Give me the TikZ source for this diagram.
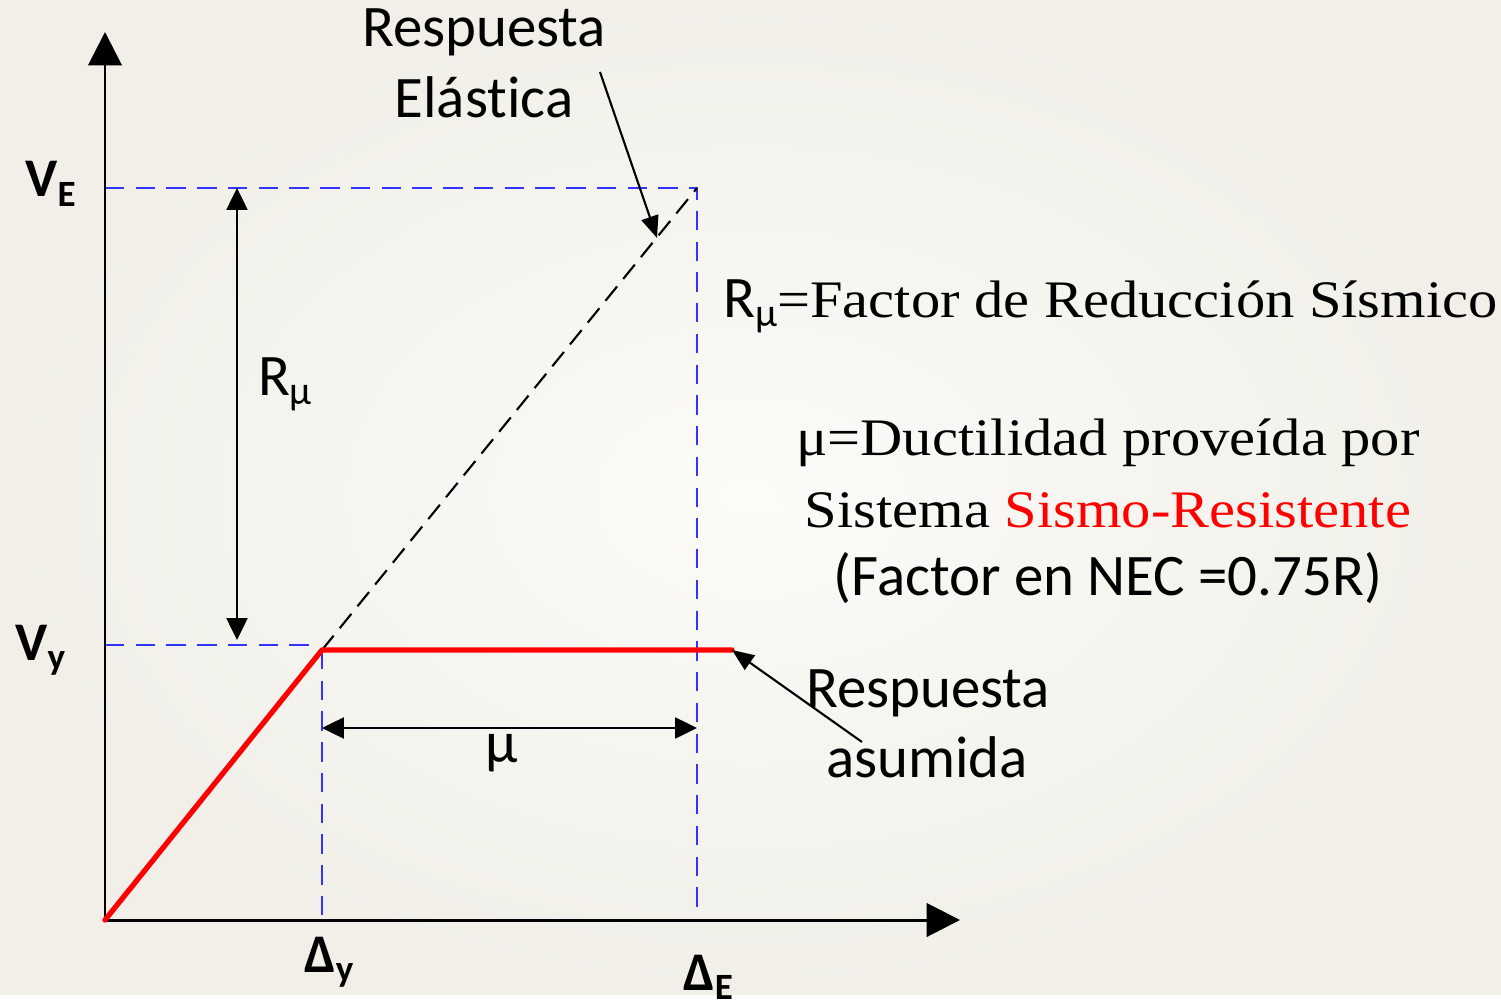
\documentclass[tikz,border=0pt]{standalone}
\usepackage{fontspec}
\setmainfont{Liberation Serif}
\newfontfamily\calibri[Ligatures=NoCommon]{Carlito}
\usetikzlibrary{arrows.meta}
\definecolor{dashblue}{RGB}{51,51,255}
\definecolor{curvered}{RGB}{255,0,0}
\definecolor{paperin}{RGB}{251,251,248}
\definecolor{paperout}{RGB}{241,239,232}
\newcommand\lowsub[1]{\raisebox{-0.35ex}{\scalebox{0.68}{#1}}}
\newcommand\widen[1]{\scalebox{1.11}[1]{#1}}
\tikzset{
  axis/.style={line width=1.7pt, -{Triangle[length=19pt,width=19pt]}},
  dimline/.style={line width=1.2pt, {Triangle[length=12.5pt,width=12pt]}-{Triangle[length=12.5pt,width=12pt]}},
  callout/.style={line width=1.2pt, -{Triangle[length=12.5pt,width=10pt]}},
  guide/.style={dashblue, line width=1.1pt, dash pattern=on 11pt off 6.5pt},
  elastic/.style={line width=1.2pt, dash pattern=on 10.5pt off 5.5pt},
  assumed/.style={curvered, line width=3pt, line cap=round, line join=round},
  lbl/.style={font=\calibri\fontsize{33.5}{40}\selectfont, inner sep=0pt, anchor=base},
  axlbl/.style={font=\calibri\bfseries\fontsize{31}{36}\selectfont, inner sep=0pt, anchor=base west},
  note/.style={font=\fontsize{30}{36}\selectfont, inner sep=0pt, anchor=base}
}
\begin{document}
\begin{tikzpicture}[x=0.02cm, y=-0.02cm]
  % fondo
  \shade[inner color=paperin, outer color=paperout] (0,0) rectangle (1501,994);
  % puntos de la curva
  \coordinate (O) at (105,920);
  \coordinate (Ytop) at (105,32);
  \coordinate (Xend) at (960,920);
  \coordinate (Yld) at (322,650);
  \coordinate (Elas) at (697,188);
  \coordinate (Pend) at (732,650);
  % lineas guia
  \draw[guide] (105,188) -- (Elas) -- (697,910);
  \draw[guide] (105,645) -- (318,645);
  \draw[guide] (Yld) -- (322,920);
  % ejes
  \draw[axis] (O) -- (Ytop);
  \draw[axis] (O) -- (Xend);
  % respuestas
  \draw[elastic] (Yld) -- (Elas);
  \draw[assumed] (O) -- (Yld) -- (Pend);
  % cotas
  \coordinate (Rtop) at (237,188);
  \coordinate (Rbot) at (237,640);
  \coordinate (Mleft) at (322,728);
  \coordinate (Mright) at (697,728);
  \draw[dimline] (Rtop) -- (Rbot);
  \draw[dimline] (Mleft) -- (Mright);
  \node[lbl] (rmu) at (285,395) {R\lowsub{μ}};
  \node[lbl] (mu) at (502,762) {μ};
  % etiquetas de ejes
  \node[axlbl] (ve) at (25,197) {V\lowsub{E}};
  \node[axlbl] (vy) at (15,660) {V\lowsub{y}};
  \node[axlbl] (dy) at (304,972) {Δ\lowsub{y}};
  \node[axlbl] (de) at (683,990) {Δ\lowsub{E}};
  % llamadas
  \node[lbl] (elas1) at (484,47) {Respuesta};
  \node[lbl] (elas2) at (484,118) {Elástica};
  \node[lbl] (asum1) at (928,707) {Respuesta};
  \node[lbl] (asum2) at (927,777) {asumida};
  \coordinate (c1) at (600,72);
  \coordinate (c2) at (862,742);
  \draw[callout] (c1) -- (657,238);
  \draw[callout] (c2) -- (Pend);
  % definiciones
  \node[note, anchor=base west] (def1) at (723,317) {{\calibri\fontsize{33.5}{40}\selectfont R\lowsub{μ}}\widen{=Factor de Reducción Sísmico}};
  \node[note] (def2) at (1108,455) {\widen{μ=Ductilidad proveída por}};
  \node[note] (def3) at (1108,527) {\widen{Sistema \textcolor{curvered}{Sismo-Resistente}}};
  \node[lbl] (def4) at (1108,595) {(Factor en NEC =0.75R)};
\end{tikzpicture}
\end{document}
